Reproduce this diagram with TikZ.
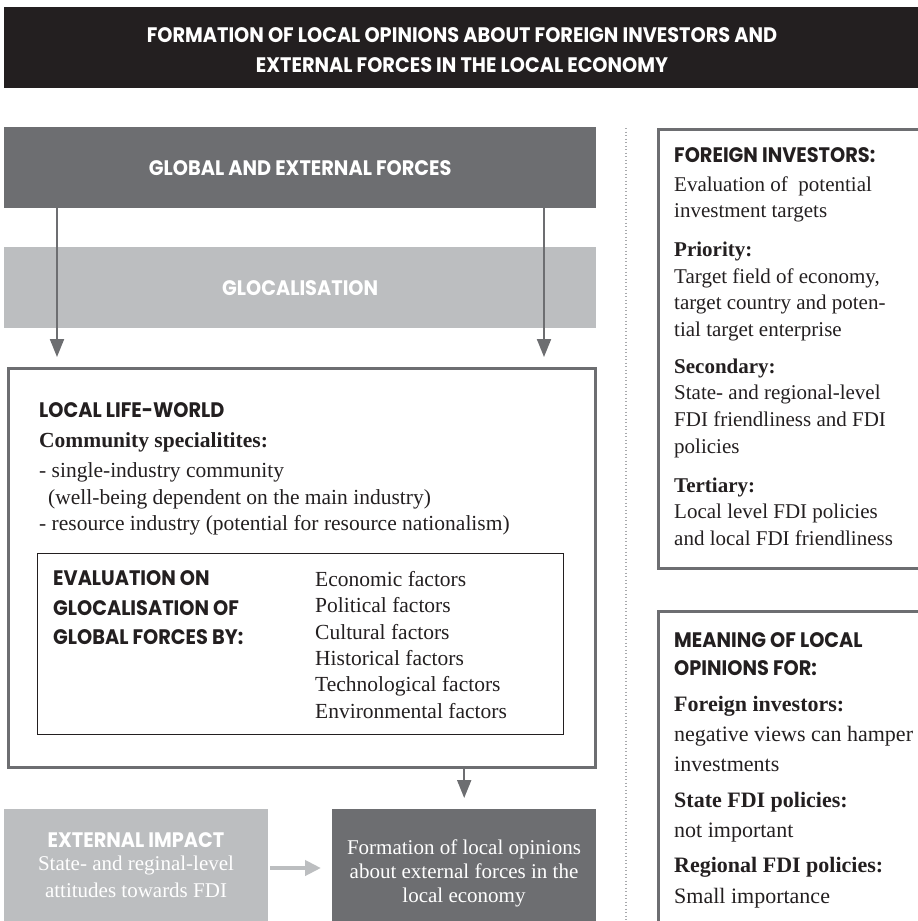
\documentclass[tikz,border=0pt]{standalone}
\usepackage{fontspec}
\setmainfont{Liberation Serif}
\newfontfamily\hsf{Poppins}[FakeStretch=0.92]
\usetikzlibrary{arrows.meta}
\definecolor{hdr}{HTML}{231F20}
\definecolor{midg}{HTML}{6D6E71}
\definecolor{lightg}{HTML}{BCBEC0}
\definecolor{dotg}{HTML}{A7A9AC}
\definecolor{ink}{HTML}{231F20}
\tikzset{
  sansF/.style={font=\hsf\bfseries\fontsize{21}{24}\selectfont},
  serF/.style={font=\fontsize{21}{26}\selectfont},
  serBF/.style={font=\bfseries\fontsize{21}{26}\selectfont},
  serL/.style={font=\fontsize{21.5}{26}\selectfont},
  serLB/.style={font=\bfseries\fontsize{21.5}{26}\selectfont},
  serM/.style={font=\fontsize{22}{26}\selectfont},
  serMB/.style={font=\bfseries\fontsize{22}{26}\selectfont},
  ln/.style={inner sep=0pt, anchor=base west, text=ink},
  lnc/.style={inner sep=0pt, anchor=base, text=white},
  fbox/.style={inner sep=0pt, anchor=north west, draw=none},
  frame/.style={inner sep=0pt, anchor=north west, draw=midg, line width=2.5pt},
  garr/.style={draw=midg, line width=2pt, -{Triangle[width=14pt,length=18pt]}},
  larr/.style={draw=lightg, line width=4pt, -{Triangle[width=15pt,length=16pt]}},
  dotline/.style={draw=dotg, line width=1.3pt, dash pattern=on 1.3pt off 2.2pt},
}
\begin{document}
\begin{tikzpicture}[x=1pt,y=-1pt]
\useasboundingbox (0,0) rectangle (918,921);
% header
\node[fbox, fill=hdr, minimum width=920pt, minimum height=81pt] (head) at (4,7) {};
\node[lnc, sansF] (ht1) at (462,42) {FORMATION OF LOCAL OPINIONS ABOUT FOREIGN INVESTORS AND};
\node[lnc, sansF] (ht2) at (462,72) {EXTERNAL FORCES IN THE LOCAL ECONOMY};
% global / glocal
\node[fbox, fill=midg, minimum width=592pt, minimum height=81pt, sansF, text=white] (glob) at (4,127) {GLOBAL AND EXTERNAL FORCES};
\node[fbox, fill=lightg, minimum width=592pt, minimum height=81pt, sansF, text=white] (gloc) at (4,247) {GLOCALISATION};
% local life-world
\node[frame, minimum width=587pt, minimum height=399pt] (local) at (7,367) {};
\node[ln, sansF] (llw) at (39,417) {LOCAL LIFE-WORLD};
\node[ln, serLB] (cs) at (39,447) {Community specialitites:};
\node[ln, serL] (cs1) at (39,477) {- single-industry community};
\node[ln, serL] (cs2) at (48,504) {(well-being dependent on the main industry)};
\node[ln, serL] (cs3) at (39,530) {- resource industry (potential for resource nationalism)};
\node[fbox, draw=ink, line width=1pt, minimum width=526pt, minimum height=181pt] (inner) at (37,553) {};
\node[ln, sansF] (ev1) at (53,585) {EVALUATION ON};
\node[ln, sansF] (ev2) at (53,615) {GLOCALISATION OF};
\node[ln, sansF] (ev3) at (53,644) {GLOBAL FORCES BY:};
\node[ln, serL] (f1) at (315,586) {Economic factors};
\node[ln, serL] (f2) at (315,612.5) {Political factors};
\node[ln, serL] (f3) at (315,639) {Cultural factors};
\node[ln, serL] (f4) at (315,665) {Historical factors};
\node[ln, serL] (f5) at (315,691.5) {Technological factors};
\node[ln, serL] (f6) at (315,718) {Environmental factors};
% bottom boxes
\node[fbox, fill=lightg, minimum width=264pt, minimum height=125pt] (ext) at (4,809) {};
\node[fbox, fill=midg, minimum width=264pt, minimum height=125pt] (form) at (332,809) {};
\node[lnc, sansF] (ei) at (136,847) {EXTERNAL IMPACT};
\node[lnc, serF] (ei1) at (136,870) {State- and reginal-level};
\node[lnc, serF] (ei2) at (136,897) {attitudes towards FDI};
\node[lnc, serF] (fo1) at (464,854) {Formation of local opinions};
\node[lnc, serF] (fo2) at (464,878) {about external forces in the};
\node[lnc, serF] (fo3) at (464,902) {local economy};
% arrows
\coordinate (a1) at (57,0);
\coordinate (a2) at (544,0);
\coordinate (hy) at (0,868);
\draw[garr, shorten >=10pt] (a1 |- glob.south) -- (a1 |- local.north);
\draw[garr, shorten >=10pt] (a2 |- glob.south) -- (a2 |- local.north);
\draw[garr, shorten >=11pt] (form.north |- local.south) -- (form.north);
\draw[larr, shorten <=2pt, shorten >=11pt] (ext.east |- hy) -- (form.west |- hy);
% dotted separator
\coordinate (d1) at (626,128);
\coordinate (d2) at (626,921);
\draw[dotline] (d1) -- (d2);
% right box 1
\node[frame, minimum width=290pt, minimum height=439pt] (fi) at (657,128) {};
\node[ln, sansF] (r1) at (674,162) {FOREIGN INVESTORS:};
\node[ln, serF] (r2) at (674,191) {Evaluation of\ \ potential};
\node[ln, serF] (r3) at (674,217) {investment targets};
\node[ln, serBF] (r4) at (674,256) {Priority:};
\node[ln, serF] (r5) at (674,283) {Target field of economy,};
\node[ln, serF] (r6) at (674,309) {target country and poten-};
\node[ln, serF] (r7) at (674,336) {tial target enterprise};
\node[ln, serBF] (r8) at (674,373) {Secondary:};
\node[ln, serF] (r9) at (674,399) {State- and regional-level};
\node[ln, serF] (r10) at (674,426) {FDI friendliness and FDI};
\node[ln, serF] (r11) at (674,453) {policies};
\node[ln, serBF] (r12) at (674,492) {Tertiary:};
\node[ln, serF] (r13) at (674,518) {Local level FDI policies};
\node[ln, serF] (r14) at (674,545) {and local FDI friendliness};
% right box 2
\node[frame, minimum width=290pt, minimum height=340pt] (mo) at (657,610) {};
\node[ln, sansF] (m1) at (674,647) {MEANING OF LOCAL};
\node[ln, sansF] (m2) at (674,675) {OPINIONS FOR:};
\node[ln, serMB] (m3) at (674,711) {Foreign investors:};
\node[ln, serM] (m4) at (674,741) {negative views can hamper};
\node[ln, serM] (m5) at (674,771) {investments};
\node[ln, serMB] (m6) at (674,807) {State FDI policies:};
\node[ln, serM] (m7) at (674,837) {not important};
\node[ln, serMB] (m8) at (674,872) {Regional FDI policies:};
\node[ln, serM] (m9) at (674,903) {Small importance};
\end{tikzpicture}
\end{document}
